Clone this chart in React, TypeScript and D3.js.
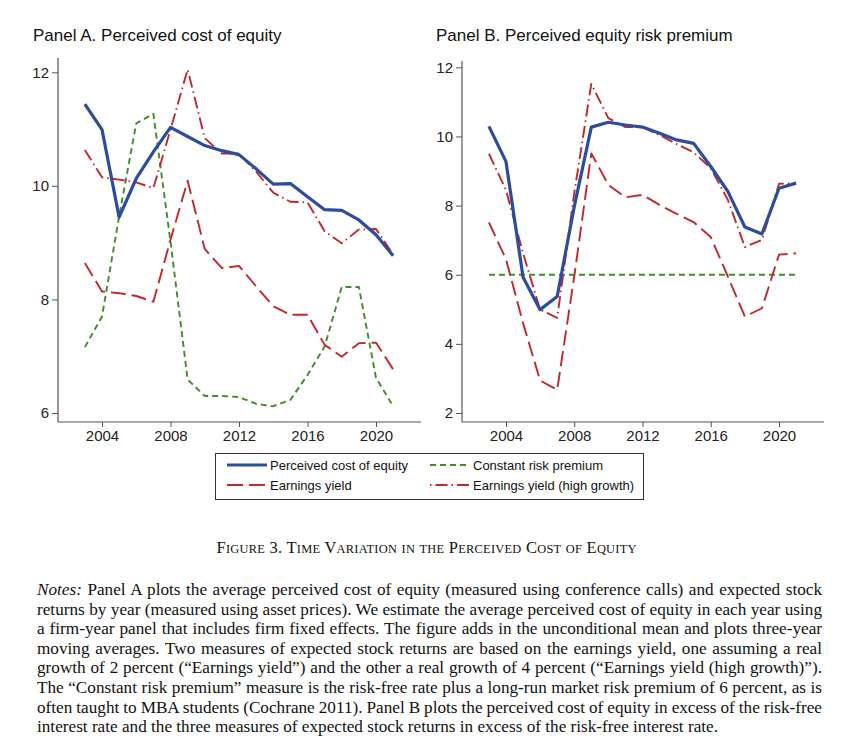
import React, {useRef, useEffect} from 'react'
import * as d3 from 'd3'

// years on the x axis
const years = [2003, 2004, 2005, 2006, 2007, 2008, 2009, 2010, 2011, 2012, 2013, 2014, 2015, 2016, 2017, 2018, 2019, 2020, 2021]
const xTicks = [2004, 2008, 2012, 2016, 2020]

// Panel A. Perceived cost of equity
const costA = [11.44, 10.99, 9.45, 10.13, 10.6, 11.03, 10.87, 10.71, 10.62, 10.55, 10.3, 10.03, 10.04, 9.81, 9.58, 9.57, 9.4, 9.14, 8.77]
const constA = [7.16, 7.7, 9.46, 11.1, 11.27, 9.02, 6.59, 6.3, 6.3, 6.28, 6.16, 6.12, 6.23, 6.67, 7.17, 8.22, 8.22, 6.62, 6.12]
const eyA = [8.64, 8.14, 8.11, 8.06, 7.96, 9.05, 10.09, 8.89, 8.55, 8.59, 8.23, 7.88, 7.73, 7.73, 7.2, 6.99, 7.23, 7.24, 6.77]
const eyHighA = [10.63, 10.15, 10.11, 10.06, 9.96, 10.99, 12.05, 10.84, 10.57, 10.57, 10.25, 9.88, 9.72, 9.71, 9.2, 8.99, 9.23, 9.24, 8.79]
const yTicksA = [6, 8, 10, 12]

// Panel B. Perceived equity risk premium
const costB = [10.29, 9.27, 5.93, 4.99, 5.37, 7.97, 10.27, 10.41, 10.33, 10.27, 10.09, 9.9, 9.8, 9.13, 8.41, 7.38, 7.18, 8.5, 8.65]
const constB = [6, 6, 6, 6, 6, 6, 6, 6, 6, 6, 6, 6, 6, 6, 6, 6, 6, 6, 6]
const eyB = [7.51, 6.45, 4.6, 2.94, 2.67, 5.95, 9.51, 8.6, 8.24, 8.31, 8.02, 7.76, 7.52, 7.09, 5.95, 4.79, 5.03, 6.58, 6.62]
const eyHighB = [9.5, 8.45, 6.62, 4.99, 4.75, 8.36, 11.52, 10.53, 10.27, 10.27, 10.04, 9.78, 9.54, 9.08, 8.17, 6.8, 7.01, 8.63, 8.65]
const yTicksB = [2, 4, 6, 8, 10, 12]

const seriesNames = ['Perceived cost of equity', 'Constant risk premium', 'Earnings yield', 'Earnings yield (high growth)']

const caption = 'Figure 3. Time Variation in the Perceived Cost of Equity'

const noteLines = [
  'Panel A plots the average perceived cost of equity (measured using conference calls) and expected stock',
  'returns by year (measured using asset prices). We estimate the average perceived cost of equity in each year using',
  'a firm-year panel that includes firm fixed effects. The figure adds in the unconditional mean and plots three-year',
  'moving averages. Two measures of expected stock returns are based on the earnings yield, one assuming a real',
  'growth of 2 percent (\u201cEarnings yield\u201d) and the other a real growth of 4 percent (\u201cEarnings yield (high growth)\u201d).',
  'The \u201cConstant risk premium\u201d measure is the risk-free rate plus a long-run market risk premium of 6 percent, as is',
  'often taught to MBA students (Cochrane 2011). Panel B plots the perceived cost of equity in excess of the risk-free',
  'interest rate and the three measures of expected stock returns in excess of the risk-free interest rate.',
]

const BLUE = '#2d4c9c'
const RED = '#c1272d'
const GREEN = '#3e8c2a'
const AXIS = '#555'
const SANS = '"Liberation Sans", Arial, Helvetica, sans-serif'
const SERIF = '"Liberation Serif", "Times New Roman", serif'

const styles = [
  {color: BLUE, width: 3.2, dash: 'none'},
  {color: GREEN, width: 1.9, dash: '6,4'},
  {color: RED, width: 1.9, dash: '15,6'},
  {color: RED, width: 1.9, dash: '12,4,1.5,4'},
]

interface PanelProps {
  title: string
  titleX: number
  left: number
  right: number
  top: number
  bottom: number
  xAt: [number, number] // pixel positions of 2004 and 2020
  yDomain: [number, number]
  yAt: [number, number]
  yTicks: number[]
  data: number[][]
}

function Panel({title, titleX, left, right, top, bottom, xAt, yDomain, yAt, yTicks, data}: PanelProps) {
  const xRef: any = useRef(null)
  const yRef: any = useRef(null)

  const x = d3.scaleLinear().domain([2004, 2020]).range(xAt)
  const y = d3.scaleLinear().domain(yDomain).range(yAt)

  useEffect(() => {
    const xa = d3.select(xRef.current)
    xa.call(d3.axisBottom(x).tickValues(xTicks).tickFormat(d3.format('d')).tickSize(5).tickPadding(3).tickSizeOuter(0) as any)
    xa.select('.domain').remove()
    xa.selectAll('line').attr('stroke', AXIS)
    xa.selectAll('text').attr('font-family', SANS).attr('font-size', 15).attr('fill', '#222')

    const ya = d3.select(yRef.current)
    ya.call(d3.axisLeft(y).tickValues(yTicks).tickFormat(d3.format('d')).tickSize(6).tickPadding(3).tickSizeOuter(0) as any)
    ya.select('.domain').remove()
    ya.selectAll('line').attr('stroke', AXIS)
    ya.selectAll('text').attr('font-family', SANS).attr('font-size', 15).attr('fill', '#222')
  })

  const line = d3
    .line<number>()
    .x((_, i) => x(years[i]))
    .y(d => y(d))

  // draw order: constant, earnings yield, high growth, then perceived cost on top
  const order = [1, 2, 3, 0]

  return (
    <g>
      <text x={titleX} y={41} fontFamily={SANS} fontSize={17} fill="#111">
        {title}
      </text>
      {order.map(k => (
        <path
          key={k}
          d={line(data[k]) || ''}
          fill="none"
          stroke={styles[k].color}
          strokeWidth={styles[k].width}
          strokeDasharray={styles[k].dash}
          strokeLinejoin="round"
        />
      ))}
      <line x1={left} x2={left} y1={top} y2={bottom} stroke={AXIS} strokeWidth={1.2} />
      <line x1={left} x2={right} y1={bottom} y2={bottom} stroke={AXIS} strokeWidth={1.2} />
      <g ref={xRef} transform={`translate(0,${bottom})`} />
      <g ref={yRef} transform={`translate(${left},0)`} />
    </g>
  )
}

function Legend() {
  const rows = [
    {k: 0, lx: 227, tx: 270, y: 465},
    {k: 1, lx: 430, tx: 473, y: 465},
    {k: 2, lx: 227, tx: 270, y: 485},
    {k: 3, lx: 430, tx: 473, y: 485},
  ]
  return (
    <g>
      <rect x={215.5} y={453.5} width={428} height={46} fill="#fff" stroke="#333" strokeWidth={1} />
      {rows.map(r => (
        <g key={r.k}>
          <line
            x1={r.lx}
            x2={r.lx + 40}
            y1={r.y}
            y2={r.y}
            stroke={styles[r.k].color}
            strokeWidth={styles[r.k].width === 3.2 ? 3 : 1.9}
            strokeDasharray={r.k === 3 ? '1.5,4,12,4' : r.k === 2 ? '16,6' : styles[r.k].dash}
          />
          <text x={r.tx} y={r.y + 4.5} fontFamily={SANS} fontSize={13} fill="#111">
            {seriesNames[r.k]}
          </text>
        </g>
      ))}
    </g>
  )
}

// small caps by hand: lowercase letters drawn as smaller capitals
function SmallCaps({text}: {text: string}) {
  const runs: {s: string; small: boolean}[] = []
  for (const ch of text) {
    const small = ch >= 'a' && ch <= 'z'
    const last = runs[runs.length - 1]
    if (last && last.small === small) last.s += small ? ch.toUpperCase() : ch
    else runs.push({s: small ? ch.toUpperCase() : ch, small})
  }
  return (
    <text x={216.5} y={553} fontFamily={SERIF} fontSize={16.5} fill="#111" textLength={420} lengthAdjust="spacing">
      {runs.map((r, i) => (
        <tspan key={i} fontSize={r.small ? 12.4 : 16.5}>
          {r.s}
        </tspan>
      ))}
    </text>
  )
}

function Notes() {
  const refs: any = useRef([])
  const lineW = 785
  useEffect(() => {
    refs.current.forEach((el: any, i: number) => {
      if (!el || i === noteLines.length - 1) return
      el.style.wordSpacing = '0px'
      const natural = el.getComputedTextLength()
      const spaces = (i === 0 ? 'Notes: ' + noteLines[i] : noteLines[i]).split(' ').length - 1
      el.style.wordSpacing = `${(lineW - natural) / spaces}px`
    })
  }, [])
  return (
    <g fontFamily={SERIF} fontSize={17.2} fill="#111">
      {noteLines.map((t, i) => (
        <text key={i} ref={el => (refs.current[i] = el)} x={37} y={595 + i * 19.6}>
          {i === 0 && <tspan fontStyle="italic">Notes: </tspan>}
          {t}
        </text>
      ))}
    </g>
  )
}

export default function App() {
  return (
    <svg
      width={865}
      height={749}
      style={{position: 'absolute', left: 0, top: 0, background: '#fff'}}
      xmlns="http://www.w3.org/2000/svg">
      <rect width={865} height={749} fill="#fff" />
      <Panel
        title="Panel A. Perceived cost of equity"
        titleX={33}
        left={58}
        right={421}
        top={58}
        bottom={422}
        xAt={[102, 376]}
        yDomain={[6, 12]}
        yAt={[413, 72.3]}
        yTicks={yTicksA}
        data={[costA, constA, eyA, eyHighA]}
      />
      <Panel
        title="Panel B. Perceived equity risk premium"
        titleX={436}
        left={462}
        right={824}
        top={61}
        bottom={422}
        xAt={[506, 779]}
        yDomain={[2, 12]}
        yAt={[413, 67.3]}
        yTicks={yTicksB}
        data={[costB, constB, eyB, eyHighB]}
      />
      <Legend />
      <SmallCaps text={caption} />
      <Notes />
    </svg>
  )
}
